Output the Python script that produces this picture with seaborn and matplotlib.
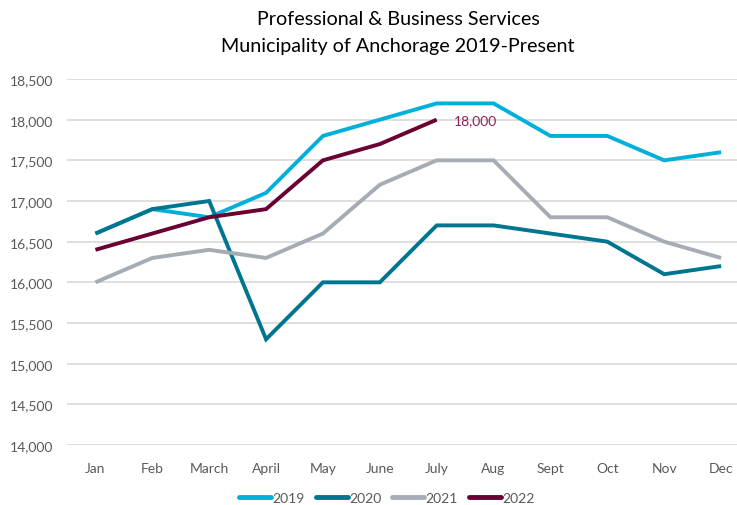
import matplotlib
matplotlib.use("Agg")
import matplotlib.pyplot as plt
import seaborn as sns
import pandas as pd
import numpy as np

months = ["Jan", "Feb", "March", "April", "May", "June", "July", "Aug", "Sept", "Oct", "Nov", "Dec"]
y2019 = [16600, 16900, 16800, 17100, 17800, 18000, 18200, 18200, 17800, 17800, 17500, 17600]
y2020 = [16600, 16900, 17000, 15300, 16000, 16000, 16700, 16700, 16600, 16500, 16100, 16200]
y2021 = [16000, 16300, 16400, 16300, 16600, 17200, 17500, 17500, 16800, 16800, 16500, 16300]
y2022 = [16400, 16600, 16800, 16900, 17500, 17700, 18000]
years = ["2019", "2020", "2021", "2022"]
colors = ["#00B0DA", "#00758F", "#A5ACB3", "#6B0032"]
yticks = [14000, 14500, 15000, 15500, 16000, 16500, 17000, 17500, 18000, 18500]

rows = []
for yr, vals in zip(years, [y2019, y2020, y2021, y2022]):
    for i, v in enumerate(vals):
        rows.append({"month": months[i], "pos": i, "value": v, "year": yr})
df = pd.DataFrame(rows)

sns.set_theme(style="white")
plt.rcParams["font.family"] = ["Lato", "DejaVu Sans"]

fig = plt.figure(figsize=(7.37, 5.06), dpi=100)
ax = fig.add_axes([67/737, 60/506, 670/737, 366/506])

sns.lineplot(data=df, x="pos", y="value", hue="year", hue_order=years,
             palette=dict(zip(years, colors)), linewidth=2.8, ax=ax,
             legend=False, sort=False, estimator=None)
for ln in ax.lines:
    ln.set_solid_joinstyle("miter")
    ln.set_solid_capstyle("butt")

ax.set_xlim(-0.5, 11.28)
ax.set_ylim(14000, 18500)
ax.set_yticks(yticks)
ax.set_yticklabels([f"{v:,}" for v in yticks])
ax.set_xticks(range(12))
ax.set_xticklabels(months)
ax.yaxis.grid(True, color="#D9D9D9", linewidth=1.2)
ax.set_axisbelow(True)
for s in ax.spines.values():
    s.set_visible(False)
ax.tick_params(axis="both", length=0, labelsize=10, labelcolor="#595959")
ax.tick_params(axis="x", pad=12)
ax.tick_params(axis="y", pad=10)
ax.set_xlabel("")
ax.set_ylabel("")

ax.annotate(f"{y2022[-1]:,}", xy=(len(y2022)-1, y2022[-1]), xytext=(12, 0),
            textcoords="offset points", color="#8B2252", fontsize=10, va="center")

fig.text(0.54, 0.962, "Professional & Business Services", ha="center", va="center",
         fontsize=14.2, color="#000000")
fig.text(0.54, 0.908, "Municipality of Anchorage 2019-Present", ha="center", va="center",
         fontsize=14.2, color="#000000")

from matplotlib.lines import Line2D
handles = [Line2D([0], [0], color=c, linewidth=3.5) for c in colors]
fig.legend(handles, years, loc="center", bbox_to_anchor=(0.525, 0.014), ncol=4,
           frameon=False, fontsize=10, labelcolor="#595959", handlelength=2.3,
           handletextpad=0.1, columnspacing=0.8)

fig.savefig("out.png", dpi=100)
